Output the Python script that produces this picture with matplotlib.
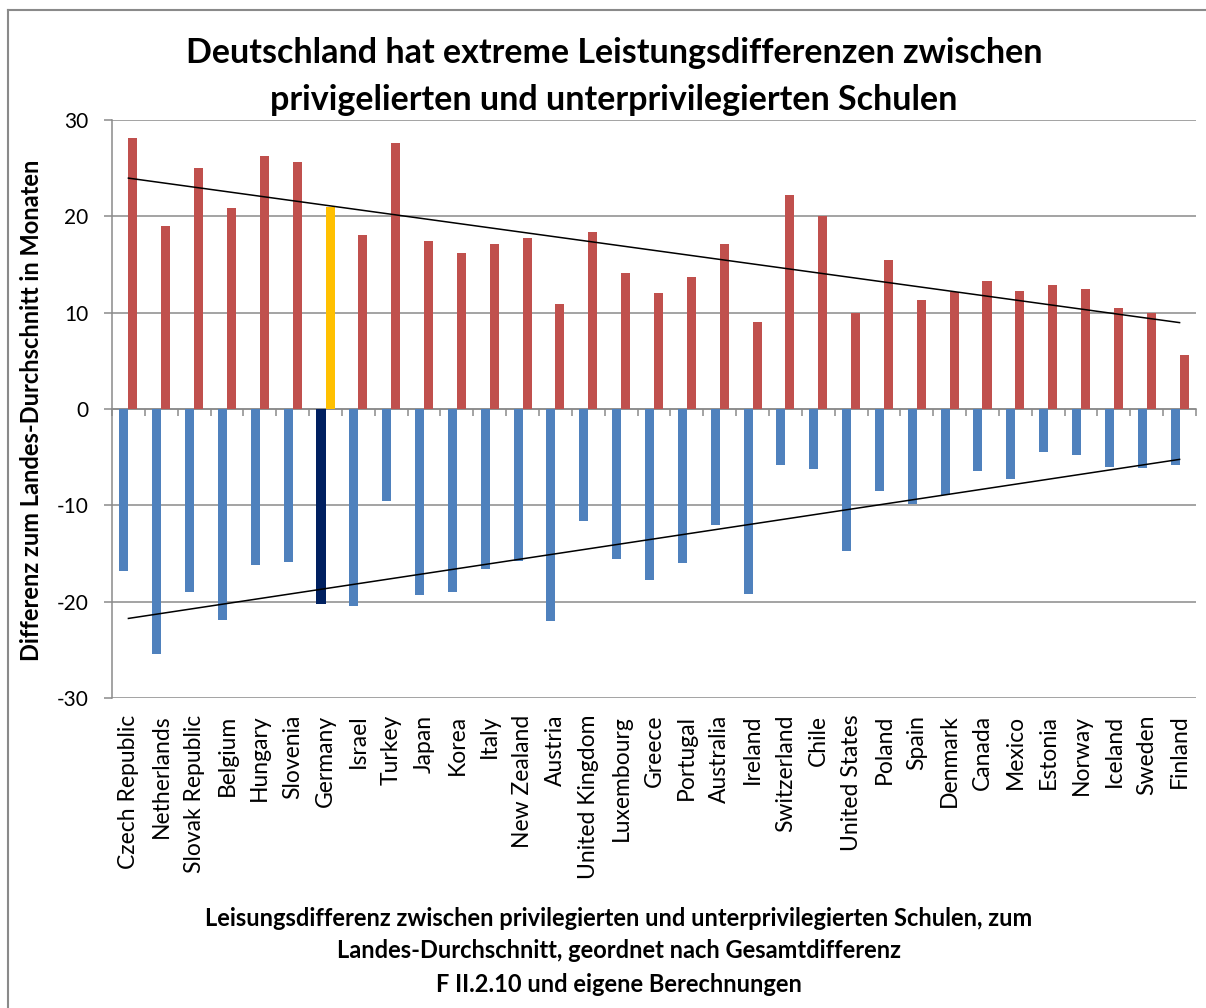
import numpy as np
import matplotlib
matplotlib.use('Agg')
import matplotlib.pyplot as plt
from matplotlib.lines import Line2D

plt.rcParams['font.family'] = ['Lato', 'DejaVu Sans']
plt.rcParams['axes.unicode_minus'] = False

countries = [
    'Czech Republic', 'Netherlands', 'Slovak Republic', 'Belgium', 'Hungary',
    'Slovenia', 'Germany', 'Israel', 'Turkey', 'Japan', 'Korea', 'Italy',
    'New Zealand', 'Austria', 'United Kingdom', 'Luxembourg', 'Greece',
    'Portugal', 'Australia', 'Ireland', 'Switzerland', 'Chile',
    'United States', 'Poland', 'Spain', 'Denmark', 'Canada', 'Mexico',
    'Estonia', 'Norway', 'Iceland', 'Sweden', 'Finland',
]
# privileged schools (above national average)
privileged = [
    28.1, 19.0, 25.0, 20.9, 26.3, 25.6, 21.0, 18.1, 27.6, 17.4, 16.2, 17.1,
    17.7, 10.9, 18.4, 14.1, 12.0, 13.7, 17.1, 9.0, 22.2, 20.0,
    10.0, 15.5, 11.3, 12.1, 13.3, 12.3, 12.9, 12.5, 10.5, 10.0, 5.6,
]
# underprivileged schools (below national average)
underprivileged = [
    -16.8, -25.4, -19.0, -21.9, -16.2, -15.9, -20.2, -20.4, -9.5, -19.3, -19.0, -16.6,
    -15.8, -22.0, -11.6, -15.6, -17.7, -16.0, -12.0, -19.2, -5.8, -6.2,
    -14.7, -8.5, -9.9, -8.9, -6.4, -7.3, -4.5, -4.8, -6.0, -6.1, -5.8,
]
highlight = 'Germany'
y_ticks = [-30, -20, -10, 0, 10, 20, 30]

RED, BLUE = '#C0504D', '#4F81BD'
GOLD, NAVY = '#FFC000', '#002060'
GRID = '#8A8A8A'

x = np.arange(len(countries))
w = 0.275

fig = plt.figure(figsize=(12.06, 10.08), dpi=100)
ax = fig.add_axes([112 / 1206, 1 - 698 / 1008, (1196 - 112) / 1206, (698 - 120) / 1008])

red_colors = [GOLD if c == highlight else RED for c in countries]
blue_colors = [NAVY if c == highlight else BLUE for c in countries]
ax.bar(x - w / 2, underprivileged, width=w, color=blue_colors, zorder=3)
ax.bar(x + w / 2, privileged, width=w, color=red_colors, zorder=3)

# linear trend lines over category index
for series in (privileged, underprivileged):
    k, d = np.polyfit(x, series, 1)
    ax.plot([x[0], x[-1]], [k * x[0] + d, k * x[-1] + d], color='black',
            linewidth=1.1, zorder=4)

ax.set_xlim(-0.5, len(countries) - 0.5)
ax.set_ylim(-30, 30)
ax.set_yticks(y_ticks)
ax.yaxis.grid(True, color=GRID, linewidth=1.1)
ax.set_axisbelow(True)
ax.tick_params(axis='y', length=6, width=1.1, color=GRID, pad=11,
               labelsize=15, labelcolor='black')

for side in ('top', 'right', 'bottom'):
    ax.spines[side].set_visible(False)
ax.spines['left'].set_color(GRID)
ax.spines['left'].set_linewidth(1.1)

# category labels at the bottom of the plot area
ax.set_xticks(x)
ax.set_xticklabels(countries, rotation=90, fontsize=16.5)
ax.tick_params(axis='x', length=0, pad=12)

# category axis drawn through zero with tick marks between categories
zero_ax = ax.secondary_xaxis(0.5)
zero_ax.set_alignment('bottom')
zero_ax.set_xticks(np.arange(len(countries) + 1) - 0.5)
zero_ax.set_xticklabels([])
zero_ax.tick_params(length=5, width=1.1, color=GRID, direction='out')
zero_ax.spines['bottom'].set_color(GRID)
zero_ax.spines['bottom'].set_linewidth(1.1)

fig.text(0.509, 1 - 53 / 1008, 'Deutschland hat extreme Leistungsdifferenzen zwischen',
         ha='center', va='center', fontsize=24.5, fontweight='bold')
fig.text(0.509, 1 - 100 / 1008, 'privigelierten und unterprivilegierten Schulen',
         ha='center', va='center', fontsize=24.5, fontweight='bold')

fig.text(32 / 1206, 1 - 410 / 1008, 'Differenz zum Landes-Durchschnitt in Monaten',
         rotation=90, ha='center', va='center', fontsize=17, fontweight='bold')

xlabel_lines = [
    'Leisungsdifferenz zwischen privilegierten und unterprivilegierten Schulen, zum',
    'Landes-Durchschnitt, geordnet nach Gesamtdifferenz',
    'F II.2.10 und eigene Berechnungen',
]
for i, line in enumerate(xlabel_lines):
    fig.text(619 / 1206, 1 - (918 + 33 * i) / 1008, line, ha='center', va='center',
             fontsize=17, fontweight='bold')

# chart frame
fig.add_artist(Line2D([8 / 1206, 8 / 1206], [0, 1 - 10 / 1008], color=GRID,
                      linewidth=1.5, transform=fig.transFigure))
fig.add_artist(Line2D([8 / 1206, 1], [1 - 10 / 1008, 1 - 10 / 1008], color=GRID,
                      linewidth=1.5, transform=fig.transFigure))

fig.savefig('out.png', dpi=100, facecolor='white')
